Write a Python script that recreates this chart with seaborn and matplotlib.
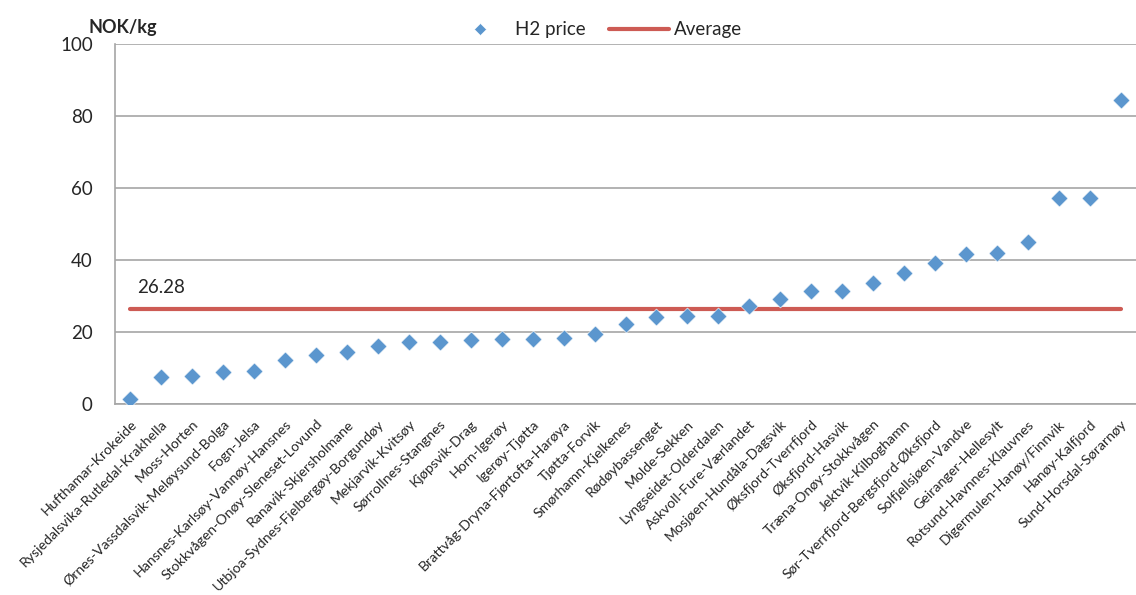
import numpy as np
import pandas as pd
import matplotlib
matplotlib.use("Agg")
import matplotlib.pyplot as plt
from matplotlib.lines import Line2D
import seaborn as sns

routes = [
    "Hufthamar-Krokeide", "Rysjedalsvika-Rutledal-Krakhella", "Moss-Horten",
    "Ørnes-Vassdalsvik-Meløysund-Bolga", "Fogn-Jelsa", "Hansnes-Karlsøy-Vannøy-Hansnes",
    "Stokkvågen-Onøy-Sleneset-Lovund", "Ranavik-Skjersholmane",
    "Utbjoa-Sydnes-Fjelbergøy-Borgundøy", "Mekjarvik-Kvitsøy", "Sørrollnes-Stangnes",
    "Kjøpsvik-Drag", "Horn-Igerøy", "Igerøy-Tjøtta", "Brattvåg-Dryna-Fjørtofta-Harøya",
    "Tjøtta-Forvik", "Smørhamn-Kjelkenes", "Rødøybassenget", "Molde-Sekken",
    "Lyngseidet-Olderdalen", "Askvoll-Fure-Værlandet", "Mosjøen-Hundåla-Dagsvik",
    "Øksfjord-Tverrfjord", "Øksfjord-Hasvik", "Træna-Onøy-Stokkvågen",
    "Jektvik-Kilboghamn", "Sør-Tverrfjord-Bergsfjord-Øksfjord", "Solfjellsjøen-Vandve",
    "Geiranger-Hellesylt", "Rotsund-Havnnes-Klauvnes", "Digermulen-Hanøy/Finnvik",
    "Hanøy-Kalfjord", "Sund-Horsdal-Sørarnøy",
]
h2_price = [
    1.3, 7.4, 7.7, 8.8, 9.3, 12.1, 13.6, 14.4, 16.2, 17.2, 17.2,
    17.7, 18.0, 18.0, 18.2, 19.4, 22.3, 24.1, 24.4, 24.4, 27.3, 29.1,
    31.4, 31.4, 33.5, 36.5, 39.1, 41.6, 41.9, 44.9, 57.1, 57.1, 84.5,
]
average = 26.28
y_ticks = [0, 20, 40, 60, 80, 100]

blue = "#5B96CE"
red = "#CD5B54"
grid_grey = "#A6A6A6"

sns.set_theme(style="white")
plt.rcParams["font.family"] = ["Lato", "DejaVu Sans"]

df = pd.DataFrame({
    "pos": np.arange(len(routes)),
    "route": routes,
    "price": h2_price,
    "avg": [average] * len(routes),
})

fig = plt.figure(figsize=(11.36, 5.95), dpi=100)
ax = fig.add_axes([115 / 1136, 1 - 404 / 595, 1 - 115 / 1136, (404 - 44) / 595])

sns.lineplot(data=df, x="pos", y="avg", ax=ax, color=red, linewidth=3.0,
             sort=False, zorder=2, legend=False)
sns.scatterplot(data=df, x="pos", y="price", ax=ax, marker="D", s=75,
                color=blue, edgecolor="white", linewidth=0.4, zorder=3,
                legend=False)

ax.set_ylim(0, 100)
ax.set_yticks(y_ticks)
ax.set_yticklabels([str(t) for t in y_ticks], fontsize=13.5)
ax.set_xlim(-0.5, (1136 - 115) / 31.2 - 0.5)

# category labels at centres, tick marks at category boundaries
ax.set_xticks(df["pos"])
ax.set_xticklabels(routes, rotation=45, ha="right", rotation_mode="anchor",
                   fontsize=10.2)
ax.set_xticks(np.arange(len(routes) + 1) - 0.5, minor=True)
ax.tick_params(axis="x", which="major", length=0, pad=10)
ax.tick_params(axis="x", which="minor", length=5, width=1, color=grid_grey,
               direction="out")
ax.tick_params(axis="y", length=7, width=1, color=grid_grey, direction="out",
               pad=9)

ax.grid(axis="y", color=grid_grey, linewidth=1.2)
ax.set_axisbelow(True)
for side in ["top", "right"]:
    ax.spines[side].set_visible(False)
for side in ["left", "bottom"]:
    ax.spines[side].set_color(grid_grey)
    ax.spines[side].set_linewidth(1.2)

ax.set_xlabel("")
ax.set_ylabel("")

ax.annotate(f"{average:.2f}", xy=(0, average), xytext=(5, 10),
            textcoords="offset points", fontsize=13.5, ha="left", va="bottom")

fig.text(88 / 1136, 1 - 27 / 595, "NOK/kg", fontsize=13, fontweight="bold",
         ha="left", va="center")

handles = [
    Line2D([], [], linestyle="none", marker="D", markersize=6,
           markerfacecolor=blue, markeredgecolor="white", markeredgewidth=0.4),
    Line2D([], [], color=red, linewidth=3.0),
]
fig.legend(handles, ["H2 price", "Average"], loc="center",
           bbox_to_anchor=(596 / 1136, 1 - 30 / 595), ncol=2, frameon=False,
           fontsize=13.5, handlelength=3.2, columnspacing=1.2, handletextpad=0.3)

fig.savefig("out.png", dpi=100)
